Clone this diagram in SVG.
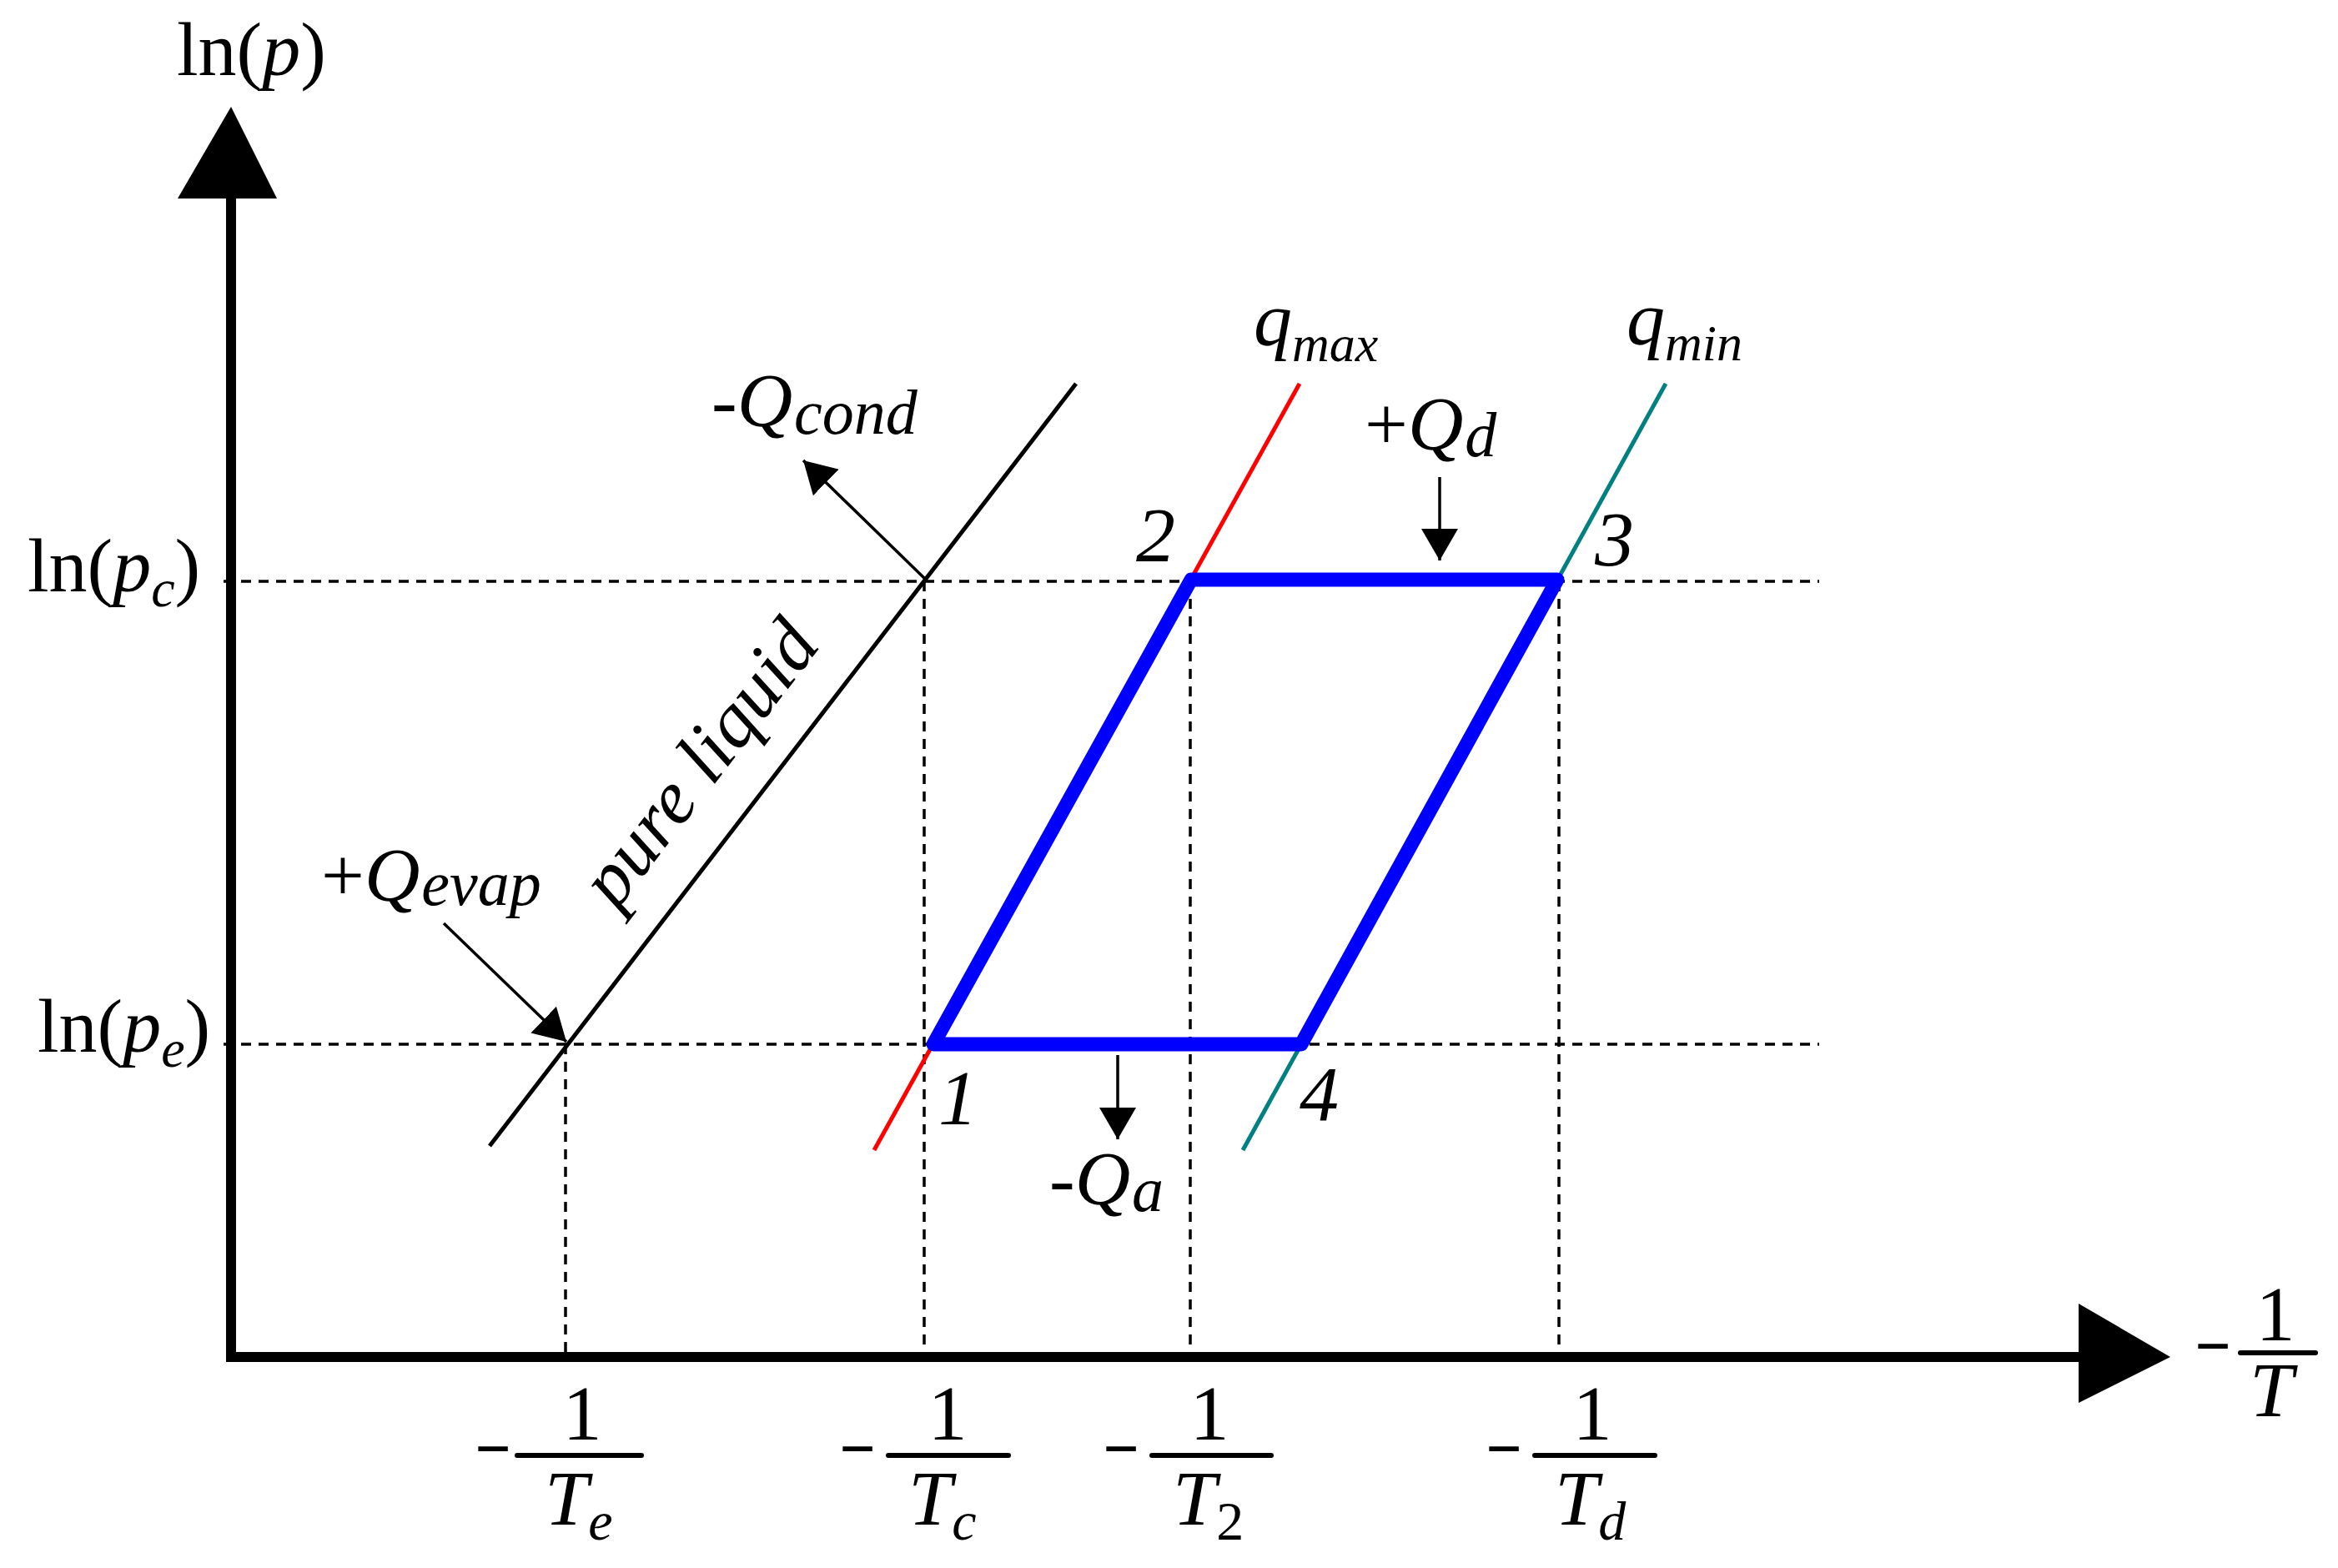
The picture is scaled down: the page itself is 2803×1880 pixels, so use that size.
<svg xmlns="http://www.w3.org/2000/svg" width="2803" height="1880" viewBox="0 0 2803 1880">
<style>
text{font-family:"Liberation Serif","Times New Roman",serif;fill:#000}
.f92{font-size:92px}
.f94{font-size:94px}
.i{font-style:italic}
.s76{font-size:76px}
.s64{font-size:64px}
.s62{font-size:62px}
.s66{font-size:66px}
.minus{font-size:72px;stroke:#000;stroke-width:2}
.dash{stroke:#000;stroke-width:3.5;stroke-dasharray:12 9;fill:none}
.axis{stroke:#000;stroke-width:12;fill:none}
.bar{stroke:#000;stroke-width:6;stroke-linecap:round}
.arr{stroke:#000;stroke-width:3.5;fill:none;marker-end:url(#ah)}
.curve{stroke-width:5;fill:none}
</style>
<defs>
<marker id="ah" markerUnits="userSpaceOnUse" markerWidth="38" markerHeight="44" refX="38" refY="22" orient="auto" viewBox="0 0 38 44"><path d="M0,0 L38,22 L0,44 z" fill="#000"/></marker>
</defs>
<rect width="2803" height="1880" fill="#fff"/>

<g id="guides">
<line class="dash" x1="268" y1="697" x2="2181" y2="697"/>
<line class="dash" x1="268" y1="1252" x2="2181" y2="1252"/>
<line class="dash" x1="678" y1="1252" x2="678" y2="1622"/>
<line class="dash" x1="1108" y1="697" x2="1108" y2="1622"/>
<line class="dash" x1="1427" y1="697" x2="1427" y2="1622"/>
<line class="dash" x1="1869" y1="697" x2="1869" y2="1622"/>
</g>

<g id="axes">
<path class="axis" d="M277,238 L277,1627 L2492,1627"/>
<polygon points="277,128 213,238 332,238" fill="#000"/>
<polygon points="2602,1627 2492,1563 2492,1682" fill="#000"/>
</g>

<g id="curves">
<line id="pure-liquid-line" class="curve" stroke="#000" x1="587" y1="1374" x2="1290" y2="460"/>
<line id="qmax-line" class="curve" stroke="#FF0000" x1="1048" y1="1379" x2="1558" y2="460"/>
<line id="qmin-line" class="curve" stroke="#008080" x1="1490" y1="1379" x2="1997" y2="460"/>
</g>

<g id="cycle">
<polygon points="1119,1252 1428,695 1867,695 1560,1252" fill="none" stroke="#0000FF" stroke-width="17" stroke-linejoin="round"/>
</g>

<g id="connectors">
<line class="arr" x1="532" y1="1107" x2="679" y2="1249"/>
<line class="arr" x1="1109" y1="694" x2="963" y2="552"/>
<line class="arr" x1="1726" y1="572" x2="1726" y2="672"/>
<line class="arr" x1="1340" y1="1265" x2="1340" y2="1366"/>
</g>

<g id="axis-labels">
<text class="f92" x="212" y="90">ln(<tspan class="i">p</tspan>)</text>
<text class="f92" x="33" y="709">ln(<tspan class="i">p</tspan><tspan class="i s64" dy="18">c</tspan><tspan dy="-18">)</tspan></text>
<text class="f92" x="45" y="1261">ln(<tspan class="i">p</tspan><tspan class="i s64" dy="18">e</tspan><tspan dy="-18">)</tspan></text>
</g>

<g id="frac-Te">
<text class="minus" x="591" y="1761" text-anchor="middle">−</text>
<line class="bar" x1="620" y1="1745" x2="769" y2="1745"/>
<text class="f94" x="698" y="1726" text-anchor="middle">1</text>
<text class="f94 i" x="653" y="1828">T<tspan class="s66" dy="18">e</tspan></text>
</g>
<g id="frac-Tc">
<text class="minus" x="1028" y="1761" text-anchor="middle">−</text>
<line class="bar" x1="1065" y1="1745" x2="1209" y2="1745"/>
<text class="f94" x="1136" y="1726" text-anchor="middle">1</text>
<text class="f94 i" x="1089" y="1828">T<tspan class="s66" dy="18">c</tspan></text>
</g>
<g id="frac-T2">
<text class="minus" x="1344" y="1761" text-anchor="middle">−</text>
<line class="bar" x1="1381" y1="1745" x2="1524" y2="1745"/>
<text class="f94" x="1450" y="1726" text-anchor="middle">1</text>
<text class="f94 i" x="1406" y="1828">T<tspan class="s66" dy="18" font-style="normal">2</tspan></text>
</g>
<g id="frac-Td">
<text class="minus" x="1803" y="1761" text-anchor="middle">−</text>
<line class="bar" x1="1840" y1="1745" x2="1984" y2="1745"/>
<text class="f94" x="1909" y="1726" text-anchor="middle">1</text>
<text class="f94 i" x="1864" y="1828">T<tspan class="s66" dy="18">d</tspan></text>
</g>
<g id="frac-T">
<text class="minus" x="2653" y="1638" text-anchor="middle">−</text>
<line class="bar" x1="2686" y1="1622" x2="2776" y2="1622"/>
<text class="f94" x="2728" y="1607" text-anchor="middle">1</text>
<text class="f94 i" x="2697" y="1698">T</text>
</g>

<g id="heat-labels">
<text class="f92 i" x="853" y="511">-Q<tspan class="s76" dx="2" dy="9">cond</tspan></text>
<text class="f92" x="385" y="1080">+<tspan class="i">Q</tspan><tspan class="i s76" dx="2" dy="5">evap</tspan></text>
<text class="f92" x="1636" y="539">+<tspan class="i">Q</tspan><tspan class="i s76" dx="2" dy="8">d</tspan></text>
<text class="f92 i" x="1258" y="1444">-Q<tspan class="s76" dx="2" dy="8">a</tspan></text>
<text class="f92 i" x="1503" y="414">q<tspan class="s62" dy="19">max</tspan></text>
<text class="f92 i" x="1950" y="413">q<tspan class="s62" dy="19">min</tspan></text>
<text class="f92 i" text-anchor="middle" transform="translate(862,933) rotate(-52.3)">pure liquid</text>
</g>

<g id="points">
<text class="f94 i" x="1125" y="1348">1</text>
<text class="f94 i" x="1362" y="673">2</text>
<text class="f94 i" x="1912" y="678">3</text>
<text class="f94 i" x="1558" y="1343">4</text>
</g>
</svg>
